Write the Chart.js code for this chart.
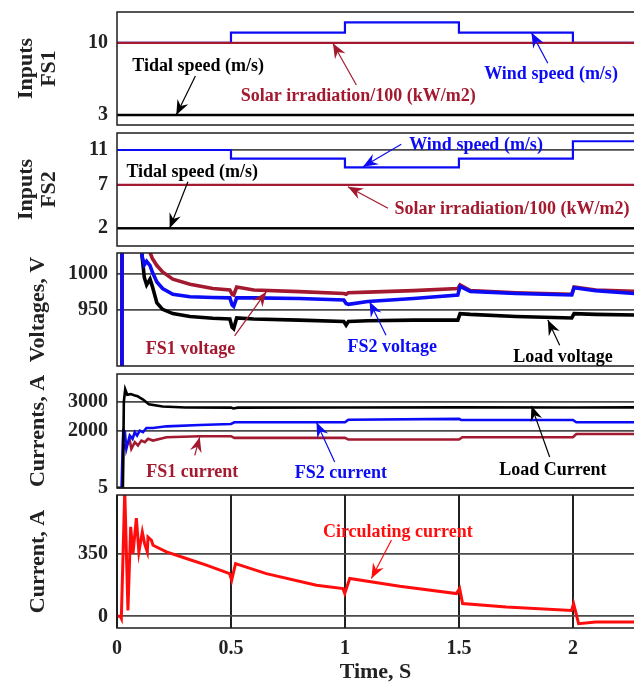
<!DOCTYPE html>
<html>
<head>
<meta charset="utf-8">
<script src="https://cdn.jsdelivr.net/npm/chart.js@4.4.1/dist/chart.umd.min.js"></script>
<style>
  html, body { margin: 0; padding: 0; background: #fff; overflow: hidden; }
  #wrap { position: relative; width: 634px; height: 686px; overflow: hidden; background: #fff; }
  canvas { position: absolute; left: 0; }
</style>
</head>
<body>
<div id="wrap">
  <canvas id="fs1" width="634" height="141" style="top:-2px"></canvas>
  <canvas id="fs2" width="634" height="141" style="top:119px"></canvas>
  <canvas id="volt" width="634" height="141" style="top:239px"></canvas>
  <canvas id="curr" width="634" height="142" style="top:360px"></canvas>
  <canvas id="circ" width="634" height="205" style="top:481px"></canvas>
</div>
<script>
// ---- data ----
const inTime = [0, 0.5, 1.0, 1.5, 2.0, 2.27];
const fs1Wind = [10, 11, 12, 11, 10, 10];
const fs1Solar = [10, 10, 10, 10, 10, 10];
const fs1Tidal = [3, 3, 3, 3, 3, 3];
const fs2Wind = [11, 10, 9, 10, 12, 12];
const fs2Solar = [7, 7, 7, 7, 7, 7];
const fs2Tidal = [2, 2, 2, 2, 2, 2];

const voltTime = [0, 0.02, 0.022, 0.1, 0.11, 0.12, 0.13, 0.145, 0.155, 0.175, 0.2, 0.245, 0.32, 0.42,
  0.495, 0.505, 0.512, 0.525, 0.6, 0.8, 0.995, 1.005, 1.015, 1.1, 1.3, 1.495, 1.505, 1.55, 1.75,
  1.995, 2.005, 2.1, 2.27];
const fs1Volt = [0, 0, 1100, 1100, 1080, 1060, 1045, 1030, 1022, 1012, 1003, 993, 986, 980,
  978, 972, 971, 982, 978, 975.6, 973, 972, 974, 975, 977, 980, 985, 977, 974,
  972, 982, 978, 976];
const fs2Volt = [0, 0, 1100, 1060, 1025, 1013, 1018, 1012, 1003, 989, 980, 972, 968.5, 967.5,
  967, 957, 955, 967, 967, 966, 964, 959, 958, 962, 966, 971, 983, 976, 973,
  971, 981, 977, 973];
const loadVolt = [0, 0, 1100, 1060, 1025, 995, 985, 993, 983, 960, 951, 945, 941, 938.5,
  937.5, 926, 924, 939, 937.5, 936, 934, 929, 934, 935, 936, 936, 945, 944, 941,
  939, 945, 944, 943];

const loadCurrTime = [0, 0.026, 0.03, 0.036, 0.045, 0.06, 0.075, 0.09, 0.1, 0.113, 0.14, 0.2, 0.3,
  0.5, 0.51, 0.53, 1.0, 1.5, 2.0, 2.27];
const loadCurr = [0, 0, 3000, 3440, 3250, 3270, 3230, 3200, 3150, 3090, 2920, 2840, 2807,
  2800, 2770, 2800, 2805, 2810, 2805, 2810];
const fs2CurrTime = [0, 0.02, 0.025, 0.028, 0.031, 0.034, 0.041, 0.056, 0.068, 0.078, 0.088, 0.1,
  0.114, 0.129, 0.158, 0.217, 0.363, 0.5, 0.515, 1.0, 1.015, 1.5, 1.51, 2.0, 2.015, 2.27];
const fs2Curr = [0, 0, 1500, 2060, 1700, 2000, 1370, 1830, 1715, 1945, 1830, 2000,
  1945, 2093, 2093, 2150, 2197, 2231, 2290, 2290, 2380, 2410, 2370, 2370, 2290, 2290];
const fs1CurrTime = [0, 0.024, 0.027, 0.034, 0.041, 0.056, 0.063, 0.078, 0.092, 0.107, 0.122,
  0.136, 0.158, 0.217, 0.363, 0.5, 0.515, 1.0, 1.015, 1.5, 1.515, 2.0, 2.015, 2.27];
const fs1Curr = [0, 0, 1310, 1500, 1483, 1655, 1370, 1600, 1483, 1655, 1600,
  1714, 1655, 1770, 1807, 1807, 1750, 1750, 1690, 1690, 1770, 1770, 1885, 1885];

const circTime = [0, 0.015, 0.019, 0.034, 0.048, 0.06, 0.07, 0.085, 0.096, 0.111, 0.121, 0.133,
  0.136, 0.151, 0.158, 0.217, 0.304, 0.392, 0.494, 0.503, 0.52, 0.655, 0.875, 0.991, 0.999,
  1.021, 1.24, 1.489, 1.503, 1.516, 1.708, 1.994, 2.003, 2.025, 2.1, 2.27];
const circCurr = [0, 0, -11, 700, 33, 499, 350, 547, 359, 470, 405, 359,
  442, 424, 396, 359, 322, 285, 238, 201, 294, 238, 173, 155, 127,
  211, 168, 127, 155, 71, 52, 33, 71, -41, -32, -32];

const timeTicks = [0, 0.5, 1, 1.5, 2];
const fs1Ticks = [3, 10];
const fs2Ticks = [2, 7, 11];
const voltTicks = [950, 1000];
const currTicks = [5, 2000, 3000];
const circTicks = [0, 350];

// ---- styling ----
const BLUE = "#0b0bf5";
const MAROON = "#a3192f";
const BLACK = "#000000";
const RED = "#ff0d0d";
const serif = '"Liberation Serif", "Times New Roman", serif';
const tickFont = { family: serif, size: 20, weight: "bold" };
const titleFont = { family: serif, size: 22, weight: "bold", lineHeight: 1.05 };
const xMax = 2.268;

const xy = (ts, vs) => ts.map((t, i) => ({ x: t, y: vs[i] }));

function line(label, ts, vs, color, width, stepped) {
  return {
    label: label,
    data: xy(ts, vs),
    borderColor: color,
    borderWidth: width,
    pointRadius: 0,
    stepped: !!stepped,
    fill: false,
    tension: 0,
  };
}

// box around the plot area (top, bottom, left)
const framePlugin = {
  id: "frame",
  afterDatasetsDraw(chart) {
    const { ctx, chartArea: a } = chart;
    ctx.save();
    ctx.strokeStyle = "#1e1e1e";
    ctx.lineWidth = 1.5;
    ctx.beginPath();
    ctx.moveTo(a.right + 2, a.top);
    ctx.lineTo(a.left, a.top);
    ctx.lineTo(a.left, a.bottom);
    ctx.lineTo(a.right + 2, a.bottom);
    ctx.stroke();
    ctx.restore();
  },
};

// text labels with arrows, placed in data units
const notesPlugin = {
  id: "notes",
  afterDatasetsDraw(chart, args, opts) {
    const { ctx } = chart;
    const x = chart.scales.x, y = chart.scales.y;
    (opts.items || []).forEach((n) => {
      const fx = x.getPixelForValue(n.from[0]), fy = y.getPixelForValue(n.from[1]);
      const tx = x.getPixelForValue(n.to[0]), ty = y.getPixelForValue(n.to[1]);
      ctx.save();
      ctx.strokeStyle = n.color;
      ctx.fillStyle = n.color;
      ctx.lineWidth = 1.2;
      ctx.beginPath();
      ctx.moveTo(fx, fy);
      ctx.lineTo(tx, ty);
      ctx.stroke();
      const ang = Math.atan2(ty - fy, tx - fx);
      ctx.translate(tx, ty);
      ctx.rotate(ang);
      ctx.beginPath();
      ctx.moveTo(0, 0);
      ctx.lineTo(-15, -6);
      ctx.lineTo(-10, 0);
      ctx.lineTo(-15, 6);
      ctx.closePath();
      ctx.fill();
      ctx.restore();

      ctx.save();
      ctx.fillStyle = n.color;
      ctx.font = "bold 18px " + serif;
      ctx.textAlign = "center";
      ctx.textBaseline = "middle";
      ctx.fillText(n.text, x.getPixelForValue(n.at[0]), y.getPixelForValue(n.at[1]));
      ctx.restore();
    });
  },
};

function yAxis(min, max, ticks, title, titlePad) {
  return {
    min: min,
    max: max,
    afterFit: (s) => {
      s.width = 117;
      s.paddingTop = 0;
      s.paddingBottom = 0;
    },
    afterBuildTicks: (s) => { s.ticks = ticks.map((v) => ({ value: v })); },
    grid: { color: "#4a4a4a", lineWidth: 1.8, drawTicks: false },
    border: { display: false },
    ticks: { padding: 9, color: "#222", font: tickFont, callback: (v) => String(v) },
    title: { display: true, text: title, color: "#222", font: titleFont, padding: { top: titlePad, bottom: 0 } },
  };
}

const hiddenX = { type: "linear", min: 0, max: xMax, display: false };

function panel(id, padBottom, datasets, yScale, xScale, notes) {
  return new Chart(document.getElementById(id), {
    type: "line",
    data: { datasets: datasets },
    options: {
      responsive: false,
      animation: false,
      devicePixelRatio: 1,
      events: [],
      layout: { padding: { top: 14, bottom: padBottom, left: 0, right: 0 } },
      scales: { x: xScale, y: yScale },
      plugins: {
        legend: { display: false },
        tooltip: { enabled: false },
        notes: { items: notes },
      },
    },
    plugins: [framePlugin, notesPlugin],
  });
}

panel("fs1", 14, [
    line("Solar irradiation/100 (kW/m2)", inTime, fs1Solar, MAROON, 2.2, true),
    line("Wind speed (m/s)", inTime, fs1Wind, BLUE, 2.2, true),
    line("Tidal speed (m/s)", inTime, fs1Tidal, BLACK, 2.4, true),
  ],
  yAxis(2.03, 13.0, fs1Ticks, ["Inputs", "FS1"], 15),
  hiddenX,
  [
    { text: "Tidal speed (m/s)", color: BLACK, at: [0.356, 7.76], from: [0.344, 6.79], to: [0.26, 3.0] },
    { text: "Solar irradiation/100 (kW/m2)", color: MAROON, at: [1.058, 4.8], from: [1.05, 5.92], to: [0.947, 9.97] },
    { text: "Wind speed (m/s)", color: BLUE, at: [1.904, 6.99], from: [1.89, 8.02], to: [1.818, 11.0] },
  ]);

panel("fs2", 14, [
    line("Wind speed (m/s)", inTime, fs2Wind, BLUE, 2.2, true),
    line("Solar irradiation/100 (kW/m2)", inTime, fs2Solar, MAROON, 2.2, true),
    line("Tidal speed (m/s)", inTime, fs2Tidal, BLACK, 2.4, true),
  ],
  yAxis(-0.03, 12.95, fs2Ticks, ["Inputs", "FS2"], 15),
  hiddenX,
  [
    { text: "Tidal speed (m/s)", color: BLACK, at: [0.33, 8.41], from: [0.311, 7.36], to: [0.231, 2.0] },
    { text: "Wind speed (m/s)", color: BLUE, at: [1.575, 11.57], from: [1.247, 11.66], to: [1.079, 9.08] },
    { text: "Solar irradiation/100 (kW/m2)", color: MAROON, at: [1.733, 4.2], from: [1.189, 4.3], to: [1.013, 6.78] },
  ]);

panel("volt", 14, [
    line("FS2 voltage", voltTime, fs2Volt, BLUE, 3.6),
    line("FS1 voltage", voltTime, fs1Volt, MAROON, 3.6),
    line("Load voltage", voltTime, loadVolt, BLACK, 3.6),
  ],
  yAxis(872, 1029.5, voltTicks, "Voltages, V", 26.5),
  hiddenX,
  [
    { text: "FS1 voltage", color: MAROON, at: [0.322, 895.4], from: [0.516, 914], to: [0.655, 975.6] },
    { text: "FS2 voltage", color: BLUE, at: [1.207, 897.5], from: [1.18, 915], to: [1.108, 961.6] },
    { text: "Load voltage", color: BLACK, at: [1.956, 883.5], from: [1.942, 901], to: [1.89, 936] },
  ]);

panel("curr", 14, [
    line("Load Current", loadCurrTime, loadCurr, BLACK, 2.6),
    line("FS2 current", fs2CurrTime, fs2Curr, BLUE, 2.6),
    line("FS1 current", fs1CurrTime, fs1Curr, MAROON, 2.6),
  ],
  yAxis(5, 3970, currTicks, "Currents, A", 26.5),
  hiddenX,
  [
    { text: "FS1 current", color: MAROON, at: [0.33, 541], from: [0.341, 1138], to: [0.363, 1772] },
    { text: "FS2 current", color: BLUE, at: [0.982, 507], from: [0.955, 910], to: [0.875, 2290] },
    { text: "Load Current", color: BLACK, at: [1.912, 621], from: [1.898, 1083], to: [1.818, 2862] },
  ]);

panel("circ", 0, [
    line("Circulating current", circTime, circCurr, RED, 3),
  ],
  yAxis(-65, 676, circTicks, "Current, A", 26.5),
  {
    type: "linear",
    min: 0,
    max: xMax,
    afterFit: (s) => { s.height = 58; },
    afterBuildTicks: (s) => { s.ticks = timeTicks.map((v) => ({ value: v })); },
    grid: { color: "#222", lineWidth: 2, drawTicks: false },
    border: { display: false },
    ticks: { padding: 9, color: "#222", font: tickFont, maxRotation: 0, autoSkip: false, callback: (v) => String(v) },
    title: { display: true, text: "Time, S", color: "#222", font: titleFont, padding: { top: 0, bottom: 2.5 } },
  },
  [
    { text: "Circulating current", color: RED, at: [1.232, 469], from: [1.204, 425], to: [1.116, 211] },
  ]);
</script>
</body>
</html>
